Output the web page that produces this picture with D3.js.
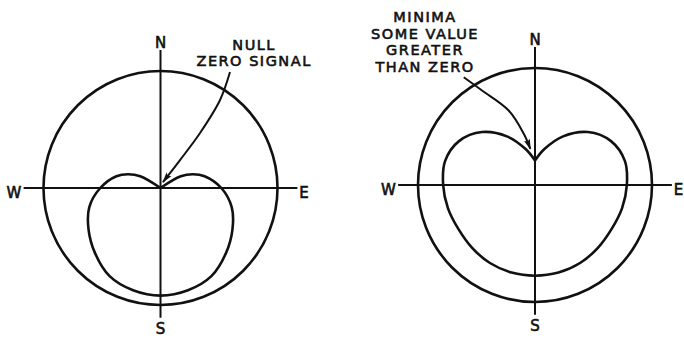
<!DOCTYPE html>
<html>
<head>
<meta charset="utf-8">
<script src="https://cdn.jsdelivr.net/npm/d3@7"></script>
<style>
  body { margin: 0; background: #fff; }
  text { font-family: "DejaVu Sans", sans-serif; fill: #111; stroke: #111; stroke-width: 0.6px; }
</style>
</head>
<body>
<div id="chart"></div>
<script>
// pattern: bearing (deg from N, clockwise) and relative signal (1 = outer circle)
var nullAngles = [52, 60, 67, 75, 90, 105, 120, 135, 150, 165, 180, 195, 210, 225, 240, 255, 270, 285, 293, 300, 308];
var nullGain   = [0, 0.20, 0.30, 0.39, 0.52, 0.63, 0.71, 0.79, 0.87, 0.905, 0.92, 0.905, 0.87, 0.79, 0.71, 0.63, 0.515, 0.39, 0.30, 0.20, 0];

var minAngles = [0, 15, 30, 45, 60, 75, 90, 105, 120, 135, 150, 165, 180, 195, 210, 225, 240, 255, 270, 285, 300, 315, 330, 345, 360];
var minGain   = [0.21, 0.32, 0.48, 0.64, 0.75, 0.795, 0.785, 0.77, 0.755, 0.76, 0.77, 0.775, 0.775, 0.775, 0.77, 0.76, 0.755, 0.77, 0.785, 0.795, 0.75, 0.64, 0.48, 0.32, 0.21];

var compass = ["N", "E", "S", "W"];
var nullNote = ["NULL", "ZERO SIGNAL"];
var minNote = ["MINIMA", "SOME VALUE", "GREATER", "THAN ZERO"];

var width = 684, height = 340, R = 117;

var svg = d3.select("#chart").append("svg")
            .attr("width", width)
            .attr("height", height);

svg.append("defs").append("marker")
   .attr("id", "head")
   .attr("viewBox", "0 0 12 8")
   .attr("refX", 11).attr("refY", 4)
   .attr("markerWidth", 11).attr("markerHeight", 7)
   .attr("markerUnits", "userSpaceOnUse")
   .attr("orient", "auto")
   .append("path")
   .attr("d", "M0,0.5 L12,4 L0,7.5 L2,4 Z")
   .attr("fill", "#111");

var r = d3.scaleLinear().domain([0, 1]).range([0, R]);

function diagram(cx, cy, angles, gain, note, noteX, noteY, arrow) {
  var g = svg.append("g").attr("transform", "translate(" + cx + "," + cy + ")");

  g.append("circle")
   .attr("r", r(1))
   .attr("fill", "none")
   .attr("stroke", "#111")
   .attr("stroke-width", 2.6);

  // compass lines
  g.append("line")
   .attr("x1", -r(1.17)).attr("x2", r(1.17))
   .attr("y1", 0).attr("y2", 0)
   .attr("stroke", "#111").attr("stroke-width", 2);
  g.append("line")
   .attr("x1", 0).attr("x2", 0)
   .attr("y1", -r(1.18)).attr("y2", r(1.11))
   .attr("stroke", "#111").attr("stroke-width", 2);

  var labelPos = {N: [0, -r(1.2), "middle"], E: [r(1.185), r(0.05), "start"],
                  S: [0, r(1.245), "middle"], W: [-r(1.19), r(0.05), "end"]};
  g.selectAll("text.dir")
   .data(compass)
   .enter()
   .append("text")
   .attr("class", "dir")
   .attr("x", function(d) { return labelPos[d][0]; })
   .attr("y", function(d) { return labelPos[d][1]; })
   .attr("text-anchor", function(d) { return labelPos[d][2]; })
   .attr("dominant-baseline", function(d) { return (d == "E" || d == "W") ? "middle" : "auto"; })
   .style("font-size", "15px")
   .text(function(d) { return d; });

  var pts = angles.map(function(a, i) { return [a * Math.PI / 180, r(gain[i])]; });
  var radial = d3.lineRadial().curve(d3.curveCatmullRom.alpha(0.5));
  g.append("path")
   .attr("d", radial(pts))
   .attr("fill", "none")
   .attr("stroke", "#111")
   .attr("stroke-width", 2.6)
   .attr("stroke-linejoin", "miter");

  g.selectAll("text.note")
   .data(note)
   .enter()
   .append("text")
   .attr("class", "note")
   .attr("x", r(noteX))
   .attr("y", function(d, i) { return r(noteY) + i * 16.5; })
   .attr("text-anchor", "middle")
   .style("font-size", "14.5px")
   .style("letter-spacing", "1.5px")
   .text(function(d) { return d; });

  var line = d3.line()
               .x(function(d) { return r(d[0]); })
               .y(function(d) { return r(d[1]); })
               .curve(d3.curveCatmullRom);
  g.append("path")
   .attr("d", line(arrow))
   .attr("fill", "none")
   .attr("stroke", "#111")
   .attr("stroke-width", 2)
   .attr("marker-end", "url(#head)");
}

diagram(160.5, 188, nullAngles, nullGain, nullNote, 0.8, -1.18,
        [[0.594, -0.991], [0.509, -0.752], [0.338, -0.47], [0.167, -0.239], [0.021, -0.051]]);
diagram(535, 185, minAngles, minGain, minNote, -0.94, -1.39,
        [[-0.609, -0.921], [-0.453, -0.808], [-0.225, -0.637], [-0.097, -0.44], [-0.04, -0.309]]);
</script>
</body>
</html>
